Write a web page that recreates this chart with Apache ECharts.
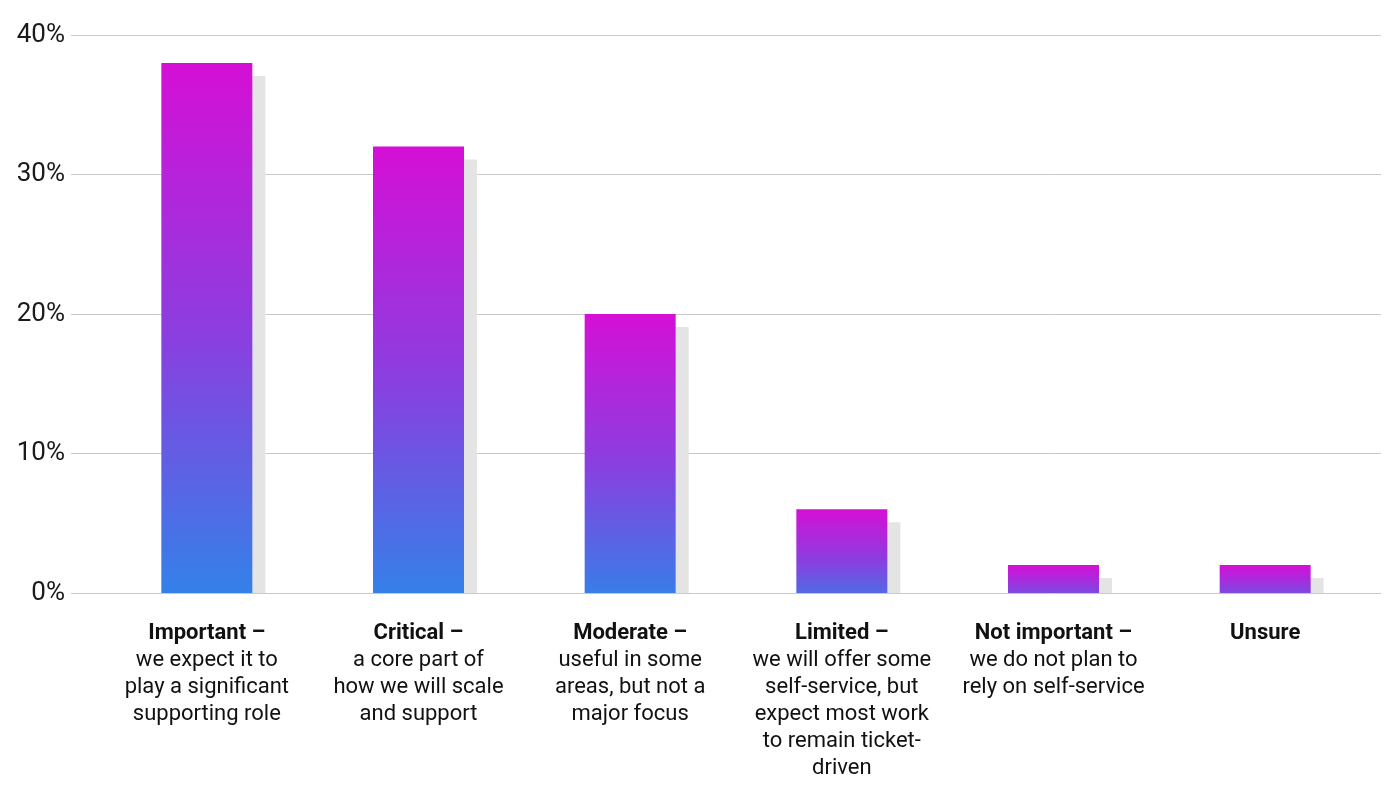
<!DOCTYPE html>
<html>
<head>
<meta charset="utf-8">
<script src="https://cdn.jsdelivr.net/npm/echarts@6/dist/echarts.min.js"></script>
<style>
  html, body { margin: 0; padding: 0; background: #fff; }
  #chart { width: 1390px; height: 804px; }
</style>
</head>
<body>
<div id="chart"></div>
<script>
// category headings (bold) and descriptions
var heads = ['Important –', 'Critical –', 'Moderate –', 'Limited –', 'Not important –', 'Unsure'];
var descs = [
    'we expect it to\nplay a significant\nsupporting role',
    'a core part of\nhow we will scale\nand support',
    'useful in some\nareas, but not a\nmajor focus',
    'we will offer some\nself-service, but\nexpect most work\nto remain ticket-\ndriven',
    'we do not plan to\nrely on self-service',
    ''
];
// share of respondents, %
var shares = [38, 32, 20, 6, 2, 2];
var yTicks = [0, 10, 20, 30, 40];

var chart = echarts.init(document.getElementById('chart'));

var categories = heads.map(function (h, i) {
    return descs[i] ? '{b|' + h + '}\n' + descs[i] : '{b|' + h + '}';
});

// bar + offset grey shadow, shadow cut at the baseline
function renderItem(params, api) {
    var top = api.coord([api.value(0), api.value(1)]);
    var base = api.coord([api.value(0), 0]);
    var w = 91, off = 13;
    var x = top[0] - w / 2;
    var h = base[1] - top[1];
    // gradient runs a bit past the baseline, so short bars stay purple
    var span = h + 20;
    var grad = new echarts.graphic.LinearGradient(0, top[1], 0, top[1] + span, [
        {offset: 0, color: '#d50fd6'},
        {offset: 0.5, color: '#8a3fe0'},
        {offset: 1, color: '#2d86e9'}
    ], true);
    return {
        type: 'group',
        children: [{
            type: 'rect',
            shape: {x: x + off, y: top[1] + off, width: w, height: Math.max(h - off, 0)},
            style: {fill: '#e4e4e4'}
        }, {
            type: 'rect',
            shape: {x: x, y: top[1], width: w, height: h},
            style: {fill: grad}
        }]
    };
}

var option = {
    backgroundColor: '#fff',
    animation: false,
    grid: [
        // wide grid: y labels and gridlines
        {left: 71, right: 9, top: 35, bottom: 211},
        // narrower grid: the bars
        {left: 101, right: 19, top: 35, bottom: 211}
    ],
    xAxis: [{
        gridIndex: 0,
        type: 'value',
        min: 0, max: 1,
        show: false
    }, {
        gridIndex: 1,
        type: 'category',
        data: categories,
        axisLine: {show: false},
        axisTick: {show: false},
        axisLabel: {
            interval: 0,
            margin: 27,
            color: '#111',
            fontFamily: 'Roboto',
            fontSize: 22,
            lineHeight: 27,
            align: 'center',
            rich: {
                b: {fontWeight: 'bold', fontFamily: 'Roboto', fontSize: 22, lineHeight: 27, color: '#111'}
            }
        }
    }],
    yAxis: [{
        gridIndex: 0,
        type: 'value',
        min: yTicks[0],
        max: yTicks[yTicks.length - 1],
        interval: 10,
        axisLine: {show: false},
        axisTick: {show: false},
        axisLabel: {
            formatter: '{value}%',
            margin: 6,
            color: '#1a1a1a',
            fontFamily: 'Roboto',
            fontSize: 26
        },
        splitLine: {lineStyle: {color: '#c9c9c9', width: 1}}
    }, {
        gridIndex: 1,
        type: 'value',
        min: 0, max: 40,
        show: false,
        splitLine: {show: false}
    }],
    series: [{
        type: 'custom',
        xAxisIndex: 1,
        yAxisIndex: 1,
        renderItem: renderItem,
        encode: {x: 0, y: 1},
        data: shares.map(function (v, i) { return [i, v]; })
    }]
};

chart.setOption(option);
</script>
</body>
</html>
